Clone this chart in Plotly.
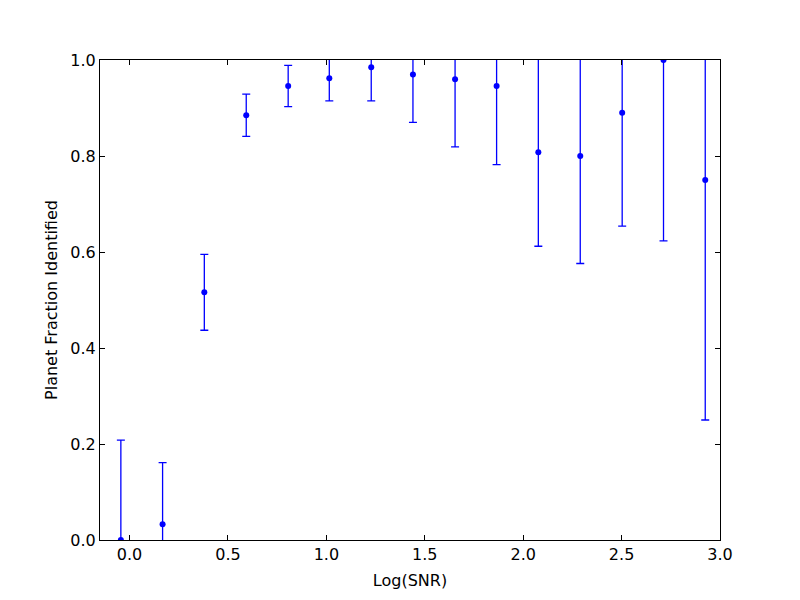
import plotly.graph_objects as go

log_snr = [-0.044, 0.168, 0.380, 0.593, 0.806, 1.015, 1.228, 1.440,
           1.654, 1.865, 2.077, 2.290, 2.503, 2.713, 2.925]
fraction = [0.0, 0.033, 0.516, 0.885, 0.946, 0.962, 0.985, 0.970,
            0.960, 0.946, 0.808, 0.800, 0.890, 1.000, 0.750]
err = [0.208, 0.128, 0.079, 0.044, 0.043, 0.047, 0.070, 0.100,
       0.141, 0.164, 0.196, 0.224, 0.236, 0.377, 0.500]

x_ticks = [0.0, 0.5, 1.0, 1.5, 2.0, 2.5, 3.0]
y_ticks = [0.0, 0.2, 0.4, 0.6, 0.8, 1.0]

font = dict(family="DejaVu Sans", size=16, color="black")

fig = go.Figure()
fig.add_trace(go.Scatter(
    x=log_snr, y=fraction, mode="markers",
    marker=dict(color="#0000ff", size=6),
    error_y=dict(type="data", array=err, visible=True,
                 color="#0000ff", thickness=1.3, width=4),
    showlegend=False,
))

axis_common = dict(
    showgrid=False, zeroline=False, showline=True, linecolor="black",
    linewidth=1, mirror="ticks", ticks="inside", ticklen=5,
    tickcolor="black", tickwidth=1, tickfont=font, tickformat=".1f",
)
fig.update_xaxes(range=[-0.15, 3.0], tickvals=x_ticks,
                 title=dict(text="Log(SNR)", font=font, standoff=11),
                 **axis_common)
fig.update_yaxes(range=[0, 1], tickvals=y_ticks,
                 title=dict(text="Planet Fraction Identified", font=font, standoff=8),
                 **axis_common)
# page body adds an 8px offset, so trim left/top margins to compensate
fig.update_layout(
    width=800, height=600,
    margin=dict(l=92, r=88, t=52, b=68),
    plot_bgcolor="white", paper_bgcolor="white",
    font=font,
)
fig.write_html("out.html")
